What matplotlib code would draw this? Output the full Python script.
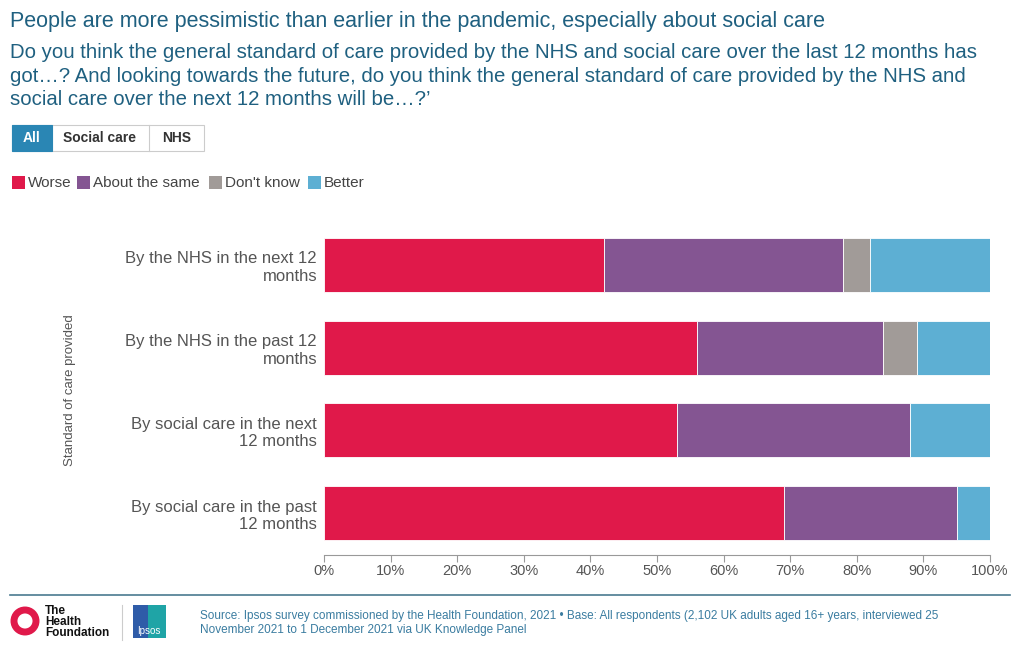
import matplotlib
matplotlib.use("Agg")
import matplotlib.pyplot as plt
from matplotlib.patches import Rectangle, Ellipse

categories = ["By the NHS in the next 12\nmonths", "By the NHS in the past 12\nmonths",
              "By social care in the next\n12 months", "By social care in the past\n12 months"]
series = ["Worse", "About the same", "Don't know", "Better"]
worse = [42, 56, 53, 69]
same = [36, 28, 35, 26]
dontknow = [4, 5, 0, 0]
better = [18, 11, 12, 5]
colors = ["#E0194A", "#845592", "#A19B98", "#5DAFD3"]
ticks = [0, 10, 20, 30, 40, 50, 60, 70, 80, 90, 100]

plt.rcParams['font.family'] = ['Liberation Sans', 'DejaVu Sans']
W, H = 1020, 653
fig = plt.figure(figsize=(W/100, H/100), dpi=100)
def fx(p): return p / W
def fy(p): return 1 - p / H

ax = fig.add_axes([fx(324), fy(554.5), fx(990) - fx(324), fy(223.5) - fy(554.5)])
left = [0]*4
ypos = list(range(4))
for vals, c in zip([worse, same, dontknow, better], colors):
    ax.barh(ypos, vals, left=left, height=0.65, color=c, edgecolor="white", linewidth=0.6)
    left = [l + v for l, v in zip(left, vals)]
ax.set_ylim(3.5, -0.5)
ax.set_xlim(0, 100)
ax.set_yticks(ypos)
ax.set_yticklabels(categories, fontsize=12, color="#555555")
ax.set_xticks(ticks)
ax.set_xticklabels([f"{t}%" for t in ticks], fontsize=10.5, color="#555555")
for s in ["top", "right", "left"]:
    ax.spines[s].set_visible(False)
ax.spines["bottom"].set_color("#999999")
ax.tick_params(axis="y", length=0, pad=5)
ax.tick_params(axis="x", color="#999999", length=5, pad=2)
fig.text(fx(70), fy(390), "Standard of care provided", rotation=90, ha="center", va="center",
         fontsize=9.5, color="#555555")

tc = "#1F6080"
fig.text(fx(10), fy(22), "People are more pessimistic than earlier in the pandemic, especially about social care",
         fontsize=15.5, color=tc, va="center")
fig.text(fx(10), fy(76), "Do you think the general standard of care provided by the NHS and social care over the last 12 months has\n"
         "got…? And looking towards the future, do you think the general standard of care provided by the NHS and\n"
         "social care over the next 12 months will be…?’", fontsize=14.7, color=tc, va="center", linespacing=1.27)

# buttons
fig.patches.append(Rectangle((fx(12), fy(151)), fx(192), fy(125) - fy(151), transform=fig.transFigure,
                             facecolor="white", edgecolor="#cccccc", lw=0.8))
fig.patches.append(Rectangle((fx(12), fy(151)), fx(40), fy(125) - fy(151), transform=fig.transFigure,
                             facecolor="#2A86B4", edgecolor="#2A86B4", lw=0.8))
fig.add_artist(plt.Line2D([fx(149), fx(149)], [fy(151), fy(125)], color="#cccccc", lw=0.8))
fig.text(fx(32), fy(138), "All", ha="center", va="center", fontsize=10, color="white", weight="bold")
fig.text(fx(100), fy(138), "Social care", ha="center", va="center", fontsize=10, color="#333333", weight="bold")
fig.text(fx(177), fy(138), "NHS", ha="center", va="center", fontsize=10, color="#333333", weight="bold")

# legend
lx = [12, 77, 209, 308]
for x, s, c in zip(lx, series, colors):
    fig.patches.append(Rectangle((fx(x), fy(189)), fx(13), fy(176) - fy(189), transform=fig.transFigure,
                                 facecolor=c, edgecolor="none"))
    fig.text(fx(x + 16), fy(183), s, va="center", fontsize=11, color="#444444")

# footer
fig.add_artist(plt.Line2D([fx(10), fx(1010)], [fy(595), fy(595)], color="#4A7A90", lw=1.2))
fig.patches.append(Ellipse((fx(25), fy(621)), fx(22), 22 / H, transform=fig.transFigure, facecolor="none",
                           edgecolor="#E0194A", lw=5))
fig.text(fx(45), fy(622), "The\nHealth\nFoundation", fontsize=8.5, weight="bold", va="center",
         color="#111111", linespacing=0.9)
fig.add_artist(plt.Line2D([fx(122), fx(122)], [fy(605), fy(640)], color="#cccccc", lw=0.8))
fig.patches.append(Rectangle((fx(133), fy(638)), fx(33), fy(605) - fy(638), transform=fig.transFigure,
                             facecolor="#1FA4A6", edgecolor="none"))
fig.patches.append(Rectangle((fx(133), fy(638)), fx(15), fy(605) - fy(638), transform=fig.transFigure,
                             facecolor="#2F5CA8", edgecolor="none"))
fig.text(fx(149), fy(631), "Ipsos", fontsize=7, color="white", ha="center", va="center")
fig.text(fx(200), fy(623), "Source: Ipsos survey commissioned by the Health Foundation, 2021 • Base: All respondents (2,102 UK adults aged 16+ years, interviewed 25\n"
         "November 2021 to 1 December 2021 via UK Knowledge Panel", fontsize=8.5, color="#3A7CA0", va="center",
         linespacing=1.3)

fig.savefig("out.png", dpi=100)
